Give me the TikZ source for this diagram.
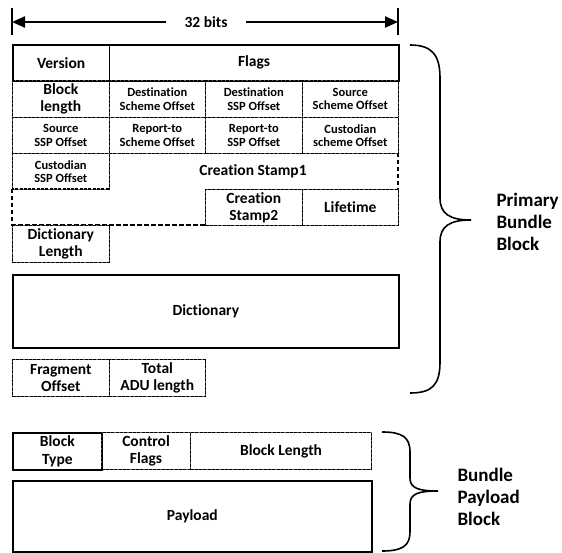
\documentclass[tikz,border=0pt]{standalone}
\usepackage{fontspec}
\setmainfont{Carlito}[Ligatures=NoCommon]
\usetikzlibrary{arrows.meta}
\tikzset{
  x=1pt, y=-1pt,
  big/.style={font=\bfseries\fontsize{15.5}{17.5}\selectfont, align=center},
  small/.style={font=\bfseries\fontsize{12.5}{13.5}\selectfont, align=center},
  sbox/.style={draw, line width=1.7pt, inner sep=0pt, anchor=north west},
  dbox/.style={preaction={draw=black!60, line width=0.7pt, solid}, draw, line width=1.1pt,
               dash pattern=on 3pt off 1.3pt, inner sep=0pt, anchor=north west},
  thickdash/.style={line width=1.8pt, dash pattern=on 4.5pt off 2.5pt},
  bracestyle/.style={line width=1.6pt},
  sidelabel/.style={font=\bfseries\fontsize{19}{22}\selectfont, align=left, anchor=west},
}
\begin{document}
\begin{tikzpicture}
\useasboundingbox (0,0) rectangle (562,553);
% 32 bits
\coordinate (tl) at (12,22);
\coordinate (tr) at (398,22);
\draw[line width=2pt] (12,8) -- (12,35);
\draw[line width=2pt] (398,8) -- (398,35);
\draw[line width=2.2pt, {Triangle[length=13pt,width=11pt]}-{Triangle[length=13pt,width=11pt]}] (tl) -- (tr);
\node[big, fill=white, minimum width=80pt, inner sep=0pt, minimum height=14pt] (bits) at (206,22) {32 bits};
% row 1
\node[sbox, minimum width=96.5pt, minimum height=36pt, big] (ver) at (12,44) {Version};
\node[sbox, minimum width=289.5pt, minimum height=36pt, big] (flags) at (108.5,44) {Flags};
% row 2
\node[dbox, minimum width=96.5pt, minimum height=37pt, big] (blen) at (12,80) {Block\\length};
\node[dbox, minimum width=96.5pt, minimum height=37pt, small] (dso) at (108.5,80) {Destination\\Scheme Offset};
\node[dbox, minimum width=96.5pt, minimum height=37pt, small] (dsso) at (205,80) {Destination\\SSP Offset};
\node[dbox, minimum width=96.5pt, minimum height=37pt, small] (sso) at (301.5,80) {Source\\Scheme Offset};
% row 3
\node[dbox, minimum width=96.5pt, minimum height=36pt, small] (sspo) at (12,117) {Source\\SSP Offset};
\node[dbox, minimum width=96.5pt, minimum height=36pt, small] (rso) at (108.5,117) {Report-to\\Scheme Offset};
\node[dbox, minimum width=96.5pt, minimum height=36pt, small] (rsso) at (205,117) {Report-to\\SSP Offset};
\node[dbox, minimum width=96.5pt, minimum height=36pt, small] (cso) at (301.5,117) {Custodian\\scheme Offset};
% row 4
\node[dbox, minimum width=96.5pt, minimum height=36pt, small] (csso) at (12,153) {Custodian\\SSP Offset};
\node[big] (cs1) at (253,171) {Creation Stamp1};
% creation stamp 1 outline
\draw[preaction={draw=black!60, line width=0.7pt, solid}, line width=1.1pt, dash pattern=on 3pt off 1.3pt] (108.5,189) -- (12,189);
\draw[thickdash] (398,153) -- (398,189);
\draw[thickdash] (12,189) -- (12,225) -- (205,225);
% row 5
\node[dbox, minimum width=96.5pt, minimum height=36pt, big] (cs2) at (205,189) {Creation\\Stamp2};
\node[dbox, minimum width=96.5pt, minimum height=36pt, big] (life) at (301.5,189) {Lifetime};
% row 6
\node[dbox, minimum width=96.5pt, minimum height=37pt, big] (dlen) at (12,225) {Dictionary\\Length};
% dictionary
\node[sbox, minimum width=386pt, minimum height=73pt, big] (dict) at (12,274) {Dictionary};
% fragment
\node[dbox, minimum width=96.5pt, minimum height=37pt, big] (frag) at (12,359) {Fragment\\Offset};
\node[dbox, minimum width=96.5pt, minimum height=37pt, big] (adu) at (108.5,359) {Total\\ADU length};
% payload block
\node[sbox, minimum width=89pt, minimum height=37pt, big] (btype) at (12,432) {Block\\Type};
\node[dbox, minimum width=89pt, minimum height=37pt, big] (cflags) at (101,432) {Control\\Flags};
\node[dbox, minimum width=181pt, minimum height=37pt, big] (bl) at (190,432) {Block Length};
\node[sbox, minimum width=359pt, minimum height=71pt, big] (pay) at (12,480) {Payload};
% braces
\draw[bracestyle] (410,45) .. controls (432,45) and (440,55) .. (440,78) -- (440,198)
  .. controls (440,214) and (450,220) .. (471,220)
  .. controls (450,220) and (440,226) .. (440,242) -- (440,362)
  .. controls (440,385) and (432,393) .. (410,393);
\draw[bracestyle] (382,432) .. controls (402,432) and (410,437) .. (410,452) -- (410,478)
  .. controls (410,488) and (418,491) .. (438,491)
  .. controls (418,491) and (410,494) .. (410,504) -- (410,532)
  .. controls (410,546) and (402,551) .. (382,551);
\node[sidelabel] (pbb) at (493,222) {Primary\\Bundle\\Block};
\node[sidelabel] (bpb) at (454,497) {Bundle\\Payload\\Block};
\end{tikzpicture}
\end{document}
